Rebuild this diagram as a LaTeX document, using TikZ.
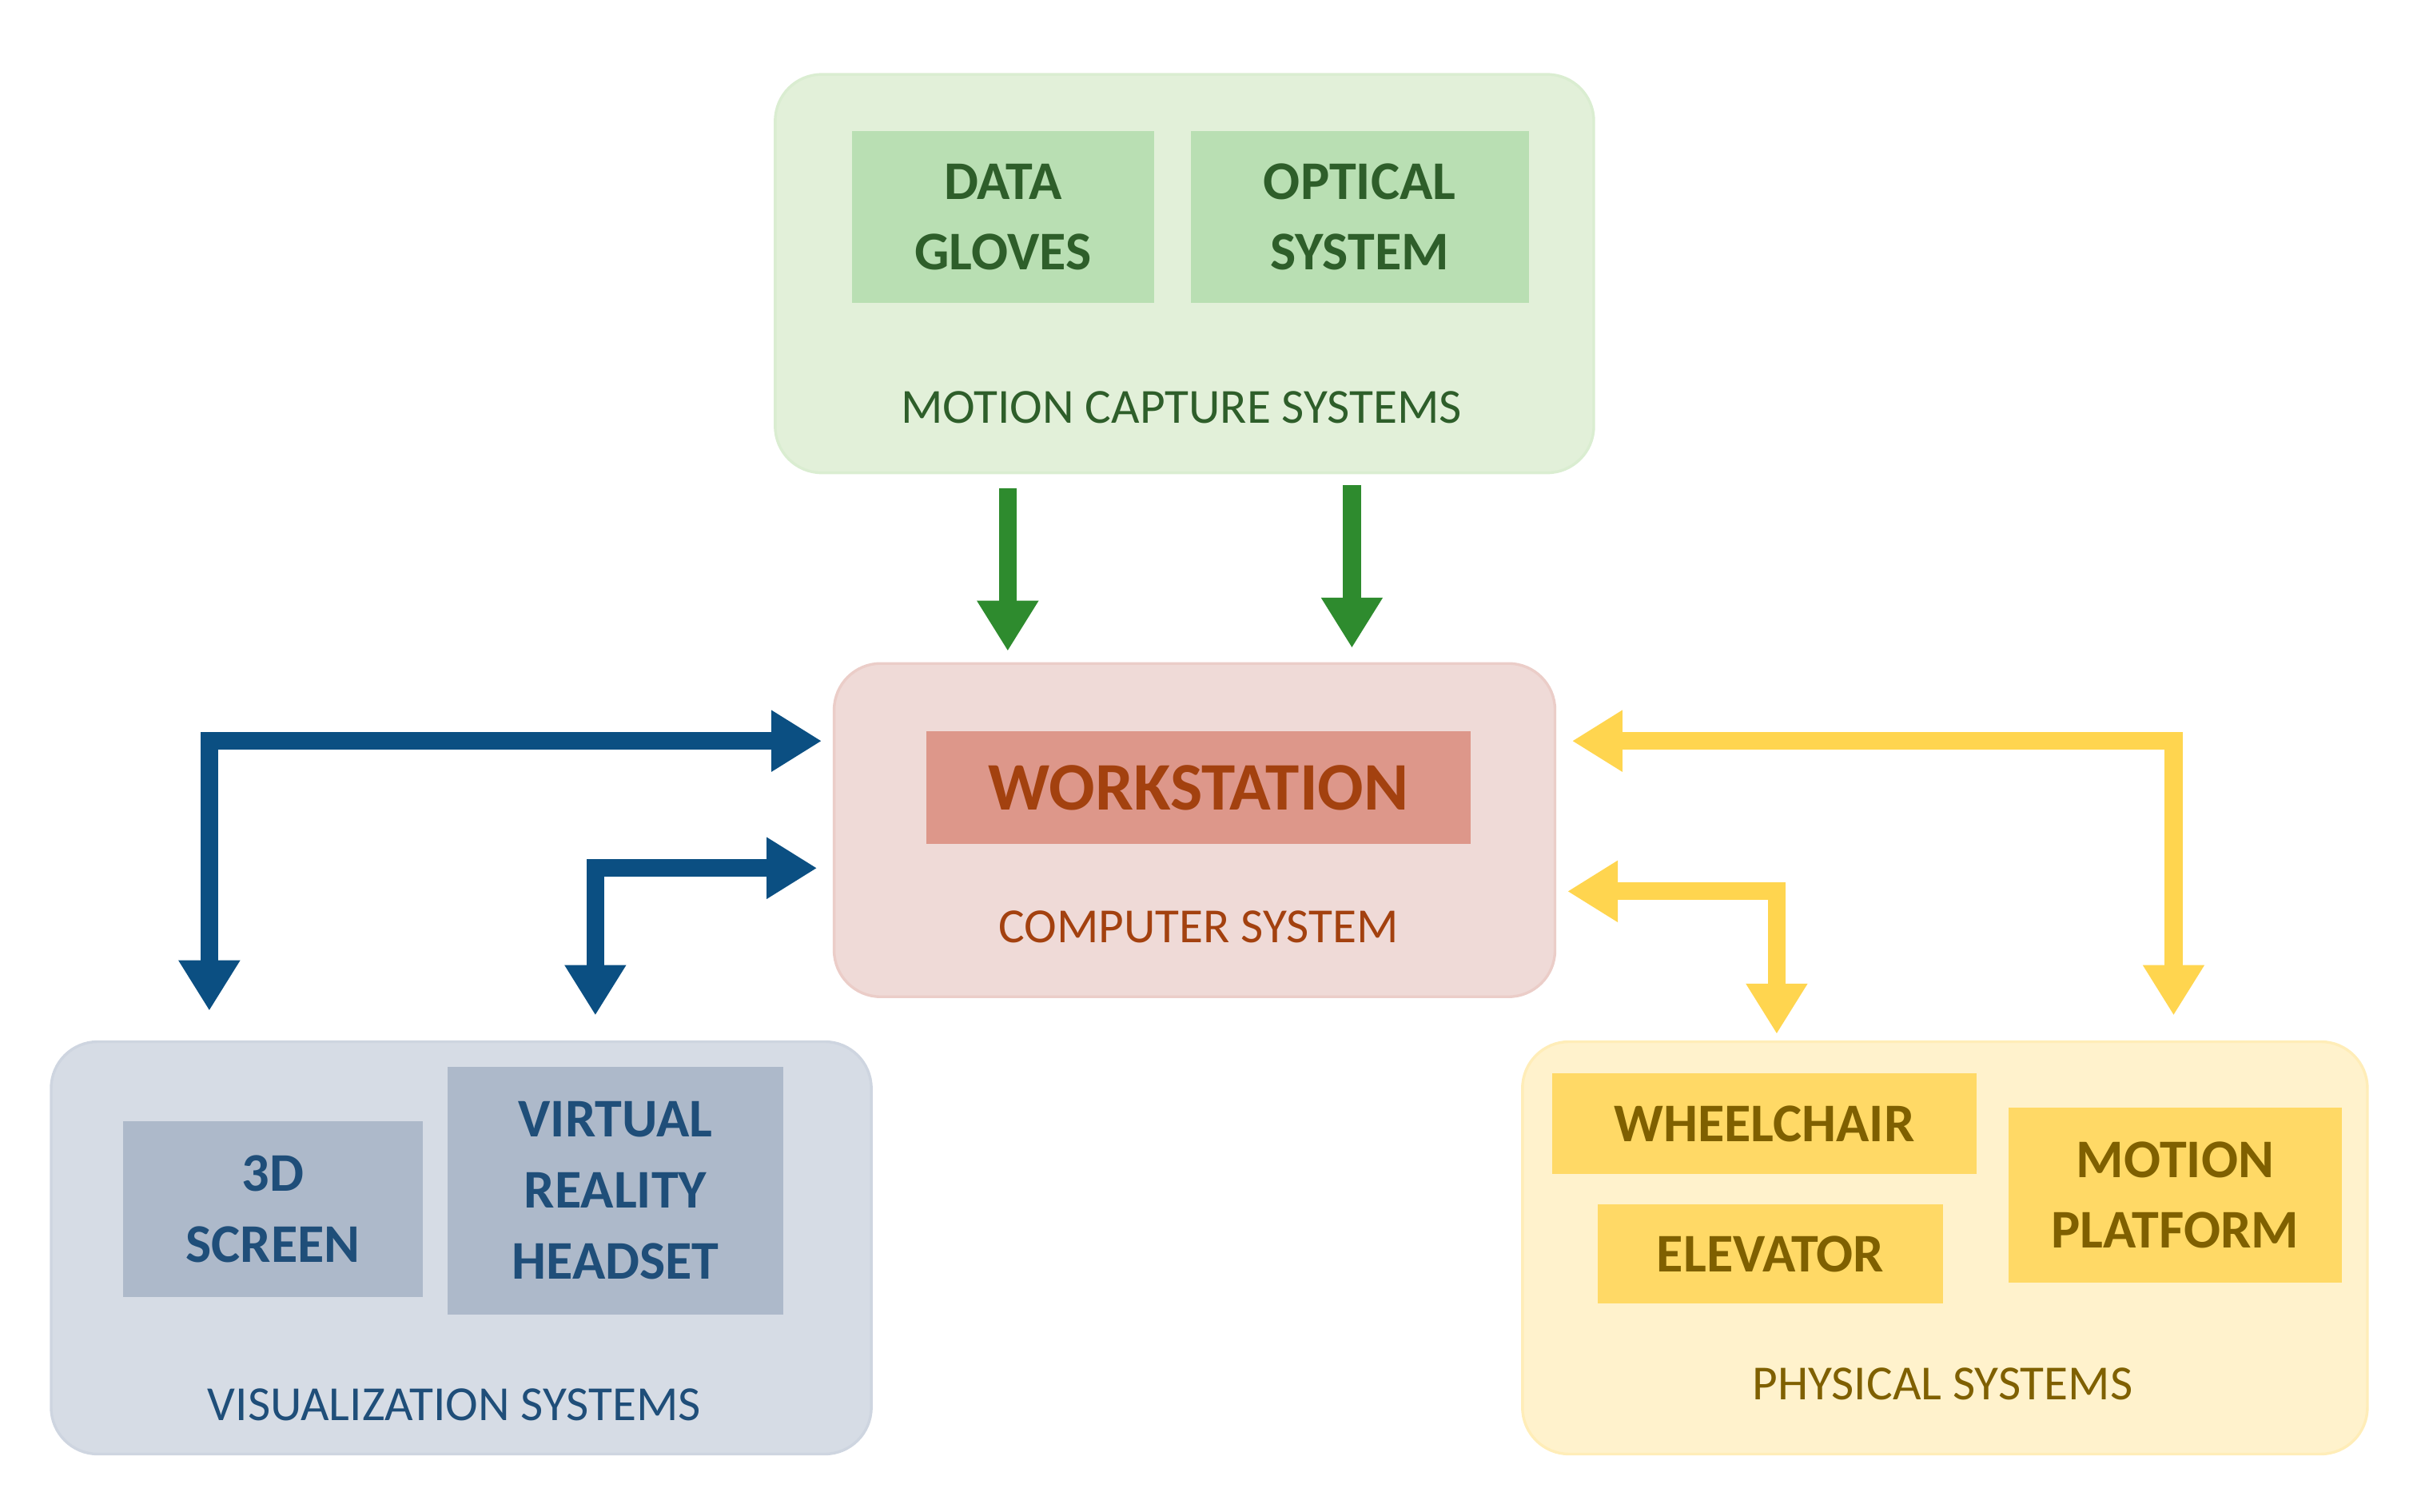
\documentclass[tikz,border=0pt]{standalone}
\usepackage{fontspec}
\setmainfont{Carlito}
\usetikzlibrary{arrows.meta}
\definecolor{gO}{HTML}{E2F0D9}\definecolor{gI}{HTML}{B9DFB3}\definecolor{gT}{HTML}{2E5E2A}\definecolor{gA}{HTML}{2E8B2E}
\definecolor{pO}{HTML}{EFDAD7}\definecolor{pI}{HTML}{DD978A}\definecolor{pT}{HTML}{A3410F}
\definecolor{bO}{HTML}{D6DCE5}\definecolor{bI}{HTML}{ADB9CA}\definecolor{bT}{HTML}{1F4E79}\definecolor{bA}{HTML}{0B4F82}
\definecolor{yO}{HTML}{FFF2CC}\definecolor{yI}{HTML}{FFD966}\definecolor{yT}{HTML}{7F6000}\definecolor{yA}{HTML}{FFD54F}
\begin{document}
\begin{tikzpicture}[x=0.02cm,y=-0.02cm,
 outer/.style={rounded corners=0.6cm,line width=1pt},
 inner/.style={font=\fontsize{20}{24}\selectfont\bfseries,align=center},
 lab/.style={font=\fontsize{18}{22}\selectfont},
 arr/.style={line width=6.5pt,-{Triangle[length=0.65cm,width=0.75cm]}},
 darr/.style={line width=6.5pt,{Triangle[length=0.65cm,width=0.75cm]}-{Triangle[length=0.65cm,width=0.75cm]}}]
\useasboundingbox (0,0) rectangle (1559,975);
% green
\draw[outer,fill=gO,draw=gO!80!gI] (500,48) rectangle (1028,305);
\node[inner,fill=gI,text=gT,minimum width=3.9cm,minimum height=2.22cm] (dg) at (647,140) {DATA\\[2pt]GLOVES};
\node[inner,fill=gI,text=gT,minimum width=4.36cm,minimum height=2.22cm] (os) at (877,140) {OPTICAL\\[2pt]SYSTEM};
\node[lab,text=gT] (mcs) at (762,263) {MOTION CAPTURE SYSTEMS};
% pink
\draw[outer,fill=pO,draw=pO!80!pI] (538,428) rectangle (1003,643);
\node[inner,fill=pI,text=pT,font=\fontsize{25}{30}\selectfont\bfseries,minimum width=7.02cm,minimum height=1.46cm] (ws) at (773,508) {WORKSTATION};
\node[lab,text=pT] (cs) at (773,598) {COMPUTER SYSTEM};
% blue
\draw[outer,fill=bO,draw=bO!80!bI] (33,672) rectangle (562,938);
\node[inner,fill=bI,text=bT,minimum width=3.86cm,minimum height=2.26cm] (sc) at (176,780) {3D\\[2pt]SCREEN};
\node[inner,fill=bI,text=bT,minimum width=4.34cm,minimum height=3.2cm] (vr) at (397,768) {VIRTUAL\\[2pt]REALITY\\[2pt]HEADSET};
\node[lab,text=bT] (vs) at (293,906) {VISUALIZATION SYSTEMS};
% yellow
\draw[outer,fill=yO,draw=yO!80!yI] (982,672) rectangle (1527,938);
\node[inner,fill=yI,text=yT,minimum width=5.48cm,minimum height=1.3cm] (wc) at (1138,725) {WHEELCHAIR};
\node[inner,fill=yI,text=yT,minimum width=4.46cm,minimum height=1.28cm] (el) at (1142,809) {ELEVATOR};
\node[inner,fill=yI,text=yT,minimum width=4.3cm,minimum height=2.26cm] (mp) at (1403,771) {MOTION\\[2pt]PLATFORM};
\node[lab,text=yT] (ps) at (1253,893) {PHYSICAL SYSTEMS};
% arrows
\coordinate (g1s) at (650,315); \coordinate (g1e) at (650,420);
\coordinate (g2s) at (872,313); \coordinate (g2e) at (872,418);
\draw[arr,gA] (g1s) -- (g1e);
\draw[arr,gA] (g2s) -- (g2e);
\coordinate (b1a) at (135,652); \coordinate (b1b) at (530,478);
\coordinate (b2a) at (384,655); \coordinate (b2b) at (527,560);
\draw[darr,bA] (b1a) |- (b1b);
\draw[darr,bA] (b2a) |- (b2b);
\coordinate (y1a) at (1014,478); \coordinate (y1b) at (1402,655);
\coordinate (y2a) at (1011,575); \coordinate (y2b) at (1146,667);
\draw[darr,yA] (y1a) -| (y1b);
\draw[darr,yA] (y2a) -| (y2b);
\end{tikzpicture}
\end{document}
